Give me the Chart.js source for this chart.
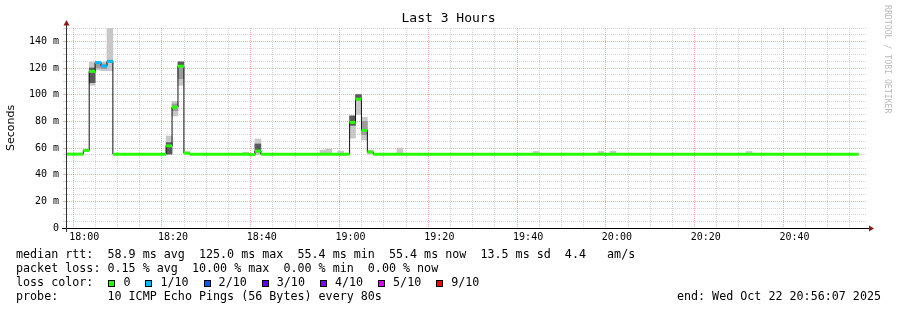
<!DOCTYPE html>
<html>
<head>
<meta charset="utf-8">
<title>Last 3 Hours</title>
<script src="https://cdn.jsdelivr.net/npm/chart.js@4.4.1/dist/chart.umd.min.js"></script>
<style>
  html, body { margin: 0; padding: 0; background: #fff; }
  #wrap { position: relative; width: 897px; height: 310px; overflow: hidden; }
  #chart { position: absolute; left: 0; top: 0; }
  .row {
    position: absolute; left: 16px;
    font: 11.7px "DejaVu Sans Mono", monospace; line-height: 14px;
    white-space: pre; color: #000;
  }
  .swatch {
    display: inline-block; width: 5px; height: 5px; border: 1px solid #000;
    margin: 0 8px 0 15px; vertical-align: -1px;
  }
  #end { left: auto; right: 16px; }
  #credit {
    position: absolute; left: 883px; top: 5px; writing-mode: vertical-rl;
    font: 8.2px "DejaVu Sans Mono", monospace; line-height: 9px; color: #bbb; white-space: pre;
  }
</style>
</head>
<body>
<div id="wrap">
  <canvas id="chart" width="897" height="310"></canvas>
  <div class="row" style="top:247px">median rtt:  58.9 ms avg  125.0 ms max  55.4 ms min  55.4 ms now  13.5 ms sd  4.4   am/s</div>
  <div class="row" style="top:261px">packet loss: 0.15 % avg  10.00 % max  0.00 % min  0.00 % now</div>
  <div class="row" id="lossRow" style="top:275px">loss color:</div>
  <div class="row" style="top:289px">probe:       10 ICMP Echo Pings (56 Bytes) every 80s</div>
  <div class="row" id="end" style="top:289px">end: Wed Oct 22 20:56:07 2025</div>
  <div id="credit">RRDTOOL / TOBI OETIKER</div>
</div>
<script>
// time is in minutes after midnight
const viewStart = 17 * 60 + 56 + 7 / 60;   // 17:56:07
const viewEnd = viewStart + 180;           // 20:56:07
const firstStep = 17 * 60 + 59 + 47 / 60;  // an 80 s step boundary
const stepMinutes = 80 / 60;

// median rtt, one entry per run of equal steps (step index where it starts)
const runStart  = [-3, 0, 1, 2, 3, 4, 5, 14, 15, 16, 17, 18, 28, 29, 30, 45, 46, 47, 48, 49];
const runMedian = [55.4, 58.2, 117.5, 124.0, 121.5, 125.0, 55.4, 61.6, 90.6, 121.3, 56.2, 55.4, 55.0, 57.7, 55.4, 79.2, 96.6, 73.2, 57.0, 55.4];
const runLoss   = [0, 0, 0, 1, 1, 1, 0, 0, 0, 0, 0, 0, 0, 0, 0, 0, 0, 0, 0, 0];
const lastStep = 131;

// smoke: spread of the 10 pings per step (ms)
const smokeStep = [1, 2, 3, 4, 14, 15, 16, 17, 27, 29, 40, 41, 43, 45, 46, 47, 48, 53, 76, 87, 89, 112];
const smokeLow  = [107, 118.5, 118, 118, 55.4, 84, 107, 55.4, 55.4, 55, 55.4, 55.4, 55.4, 67.4, 85, 66, 55.4, 55.4, 55.4, 55.4, 55.4, 55.4];
const smokeHigh = [124.5, 124.5, 124.5, 150, 69, 95, 124.6, 57, 56.8, 66.7, 58.4, 59.4, 57.7, 84.4, 100.4, 83, 58.4, 60, 57.4, 57.4, 57.7, 57.4];
const midStep   = [2, 3, 15, 16, 47];
const midLow    = [120, 119.5, 88, 112, 70];
const midHigh   = [123, 123, 93, 121, 80];
const coreStep  = [1, 14, 16, 29, 45, 46];
const coreLow   = [109, 55.4, 122, 57, 77, 96];
const coreHigh  = [120, 64, 124.6, 63, 84, 100];

const lossLabels = ["0", "1/10", "2/10", "3/10", "4/10", "5/10", "9/10"];
const lossColors = ["#26ff00", "#00b8ff", "#0059ff", "#5e00ff", "#7e00ff", "#dd00ff", "#ff0000"];

const MAJOR_GRID = "rgba(240, 60, 60, 0.45)";
const MINOR_GRID = "rgba(150, 150, 150, 0.4)";
const ARROW = "#8b1a1a";
const MONO = "DejaVu Sans Mono";

const stepTime = (k) => firstStep + k * stepMinutes;

function lossColorIndex(lost) {
  if (lost <= 4) return lost;
  return lost < 9 ? 5 : 6;
}

function hhmm(v) {
  const h = Math.floor(v / 60);
  const m = Math.round(v % 60);
  return `${String(h).padStart(2, "0")}:${String(m).padStart(2, "0")}`;
}

function ticksEvery(scale, lo, hi, step) {
  const ticks = [];
  for (let v = Math.ceil(lo / step) * step; v <= hi + 1e-9; v += step) ticks.push({ value: v });
  scale.ticks = ticks;
}

const isMajor = (ctx) => ctx.tick && Math.round(ctx.tick.value) % 20 === 0;
const gridColor = (ctx) => (isMajor(ctx) ? MAJOR_GRID : MINOR_GRID);

// black stepped median line
const medianPoints = runStart.map((k, i) => ({ x: stepTime(k), y: runMedian[i] }));
medianPoints.push({ x: stepTime(lastStep), y: runMedian[runMedian.length - 1] });

// loss-coloured flat pieces on top of it
const lossPoints = [];
const lossPointColors = [];
runStart.forEach((k, i) => {
  const end = i + 1 < runStart.length ? runStart[i + 1] : lastStep;
  const color = lossColors[lossColorIndex(runLoss[i])];
  lossPoints.push(
    { x: stepTime(k), y: runMedian[i] },
    { x: stepTime(end), y: runMedian[i] },
    { x: stepTime(end), y: null },
  );
  lossPointColors.push(color, color, color);
});

const bars = (steps, low, high) =>
  steps.map((k, i) => ({ x: stepTime(k + 0.5), y: [low[i], high[i]] }));

const smokeDefaults = {
  type: "bar",
  grouped: false,
  borderWidth: 0,
  borderSkipped: false,
  barPercentage: 1,
  categoryPercentage: 1,
};

const axesPlugin = {
  id: "rrdAxes",
  afterDraw(chart) {
    const { ctx, chartArea } = chart;
    const { left, right, top, bottom } = chartArea;
    ctx.save();
    ctx.fillStyle = "#000";
    ctx.fillRect(left - 5, bottom, right - left + 8, 1);
    ctx.fillStyle = "#333";
    ctx.fillRect(left - 1, top - 6, 1, bottom - top + 10);
    ctx.fillStyle = ARROW;
    ctx.beginPath();
    ctx.moveTo(left - 3.5, top - 2.5);
    ctx.lineTo(left + 2.5, top - 2.5);
    ctx.lineTo(left - 0.5, top - 8);
    ctx.closePath();
    ctx.fill();
    ctx.beginPath();
    ctx.moveTo(right + 3, bottom - 2.5);
    ctx.lineTo(right + 3, bottom + 3.5);
    ctx.lineTo(right + 8, bottom + 0.5);
    ctx.closePath();
    ctx.fill();
    ctx.restore();
  },
};

// legend swatches
const lossRow = document.getElementById("lossRow");
lossLabels.forEach((label, i) => {
  const box = document.createElement("span");
  box.className = "swatch";
  box.style.background = lossColors[i];
  lossRow.appendChild(box);
  lossRow.appendChild(document.createTextNode(label));
});

Chart.defaults.font.family = MONO;
Chart.defaults.color = "#000";

new Chart(document.getElementById("chart"), {
  type: "line",
  data: {
    datasets: [
      {
        label: "loss",
        data: lossPoints,
        borderWidth: 3,
        borderColor: lossColors[0],
        segment: { borderColor: (ctx) => lossPointColors[ctx.p0DataIndex] },
        pointRadius: 0,
        spanGaps: false,
        fill: false,
        order: 0,
      },
      {
        label: "median rtt",
        data: medianPoints,
        stepped: "before",
        borderWidth: 1,
        borderColor: "#111",
        pointRadius: 0,
        fill: false,
        order: 1,
      },
      { ...smokeDefaults, label: "core", data: bars(coreStep, coreLow, coreHigh), backgroundColor: "#5a5a5a", order: 2 },
      { ...smokeDefaults, label: "mid", data: bars(midStep, midLow, midHigh), backgroundColor: "#9c9c9c", order: 3 },
      { ...smokeDefaults, label: "smoke", data: bars(smokeStep, smokeLow, smokeHigh), backgroundColor: "#c8c8c8", order: 4 },
    ],
  },
  options: {
    responsive: false,
    animation: false,
    devicePixelRatio: 1,
    events: [],
    layout: { padding: 0 },
    plugins: {
      legend: { display: false },
      tooltip: { enabled: false },
      title: {
        display: true,
        text: "Last 3 Hours",
        color: "#000",
        font: { family: MONO, size: 13, weight: "normal" },
        padding: { top: 11, bottom: 1.4 },
      },
    },
    scales: {
      x: {
        type: "linear",
        min: viewStart,
        max: viewEnd,
        offset: false,
        afterBuildTicks: (scale) => ticksEvery(scale, viewStart, viewEnd, 5),
        afterFit: (scale) => { scale.height = 82; },
        ticks: {
          autoSkip: false,
          maxRotation: 0,
          padding: 3,
          font: { family: MONO, size: 10 },
          callback: (v) => (Math.round(v) % 20 === 0 ? hhmm(v) : ""),
        },
        grid: { color: gridColor, drawTicks: false },
        border: { display: false, dash: [1, 1] },
      },
      y: {
        type: "linear",
        min: 0,
        max: 150,
        afterBuildTicks: (scale) => ticksEvery(scale, 0, 150, 5),
        afterFit: (scale) => { scale.width = 67; },
        ticks: {
          autoSkip: false,
          padding: 4,
          font: { family: MONO, size: 10 },
          callback: (v) => (v % 20 !== 0 ? "" : v === 0 ? "0" : `${v} m`),
        },
        grid: { color: gridColor, tickLength: 4 },
        border: { display: false, dash: [1, 1] },
        title: {
          display: true,
          text: "Seconds",
          color: "#000",
          font: { family: "DejaVu Sans", size: 11 },
          padding: { top: 4.5, bottom: 0 },
        },
      },
      yRight: {
        type: "linear",
        position: "right",
        ticks: { display: false },
        grid: { display: false },
        border: { display: false },
        afterFit: (scale) => { scale.width = 31; },
      },
    },
  },
  plugins: [axesPlugin],
});
</script>
</body>
</html>
